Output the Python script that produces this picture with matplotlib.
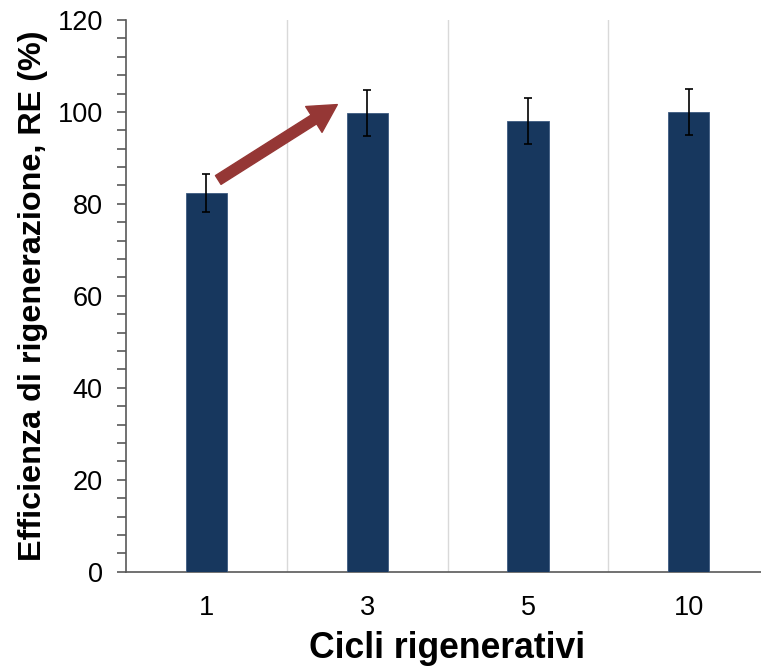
import matplotlib
matplotlib.use("Agg")
import matplotlib.pyplot as plt
from matplotlib.ticker import MultipleLocator
from matplotlib.patches import FancyArrowPatch

plt.rcParams['font.family'] = ['Liberation Sans', 'DejaVu Sans']

cycles = ['1', '3', '5', '10']
efficiency = [82.4, 99.7, 98.1, 99.9]
errors = [4.2, 5.0, 5.0, 5.0]

bar_color = '#17375E'
arrow_color = '#953735'

fig = plt.figure(figsize=(7.61, 6.66), dpi=100)
ax = fig.add_axes([0.1652, 0.1416, 0.8458, 0.8284])

x = list(range(len(cycles)))
ax.bar(x, efficiency, width=0.255, color=bar_color, edgecolor='#3d5a80',
       linewidth=0.6, zorder=3)
ax.errorbar(x, efficiency, yerr=errors, fmt='none', ecolor='black',
            elinewidth=1.2, capsize=3, capthick=1.2, zorder=4)

ax.set_xlim(-0.5, len(cycles) - 0.5)
ax.set_ylim(0, 120)
ax.set_xticks(x)
ax.set_xticklabels(cycles)

# category separators
for b in [0.5, 1.5, 2.5]:
    ax.axvline(b, color='#d9d9d9', linewidth=1.0, zorder=1)

ax.yaxis.set_major_locator(MultipleLocator(20))
ax.yaxis.set_minor_locator(MultipleLocator(4))
ax.tick_params(axis='y', which='both', direction='out', length=6.5,
               width=1.2, color='#595959', labelsize=19.5, pad=10)
ax.tick_params(axis='x', which='both', length=0, labelsize=19.5, pad=17)

for side in ['top', 'right']:
    ax.spines[side].set_visible(False)
ax.spines['left'].set_color('#595959')
ax.spines['left'].set_linewidth(1.2)
ax.spines['bottom'].set_color('#595959')
ax.spines['bottom'].set_linewidth(1.2)

ax.set_xlabel('Cicli rigenerativi', fontsize=25.6, fontweight='bold', labelpad=7)
ax.set_ylabel('Efficienza di rigenerazione, RE (%)', fontsize=23.3,
              fontweight='bold', labelpad=7)

arrow = FancyArrowPatch((0.075, 85.2), (0.815, 101.6),
                        arrowstyle='simple,head_width=2.2,head_length=2.0,tail_width=0.75',
                        mutation_scale=10, color=arrow_color, zorder=5,
                        shrinkA=0, shrinkB=0)
ax.add_patch(arrow)

fig.savefig('out.png', dpi=100)
